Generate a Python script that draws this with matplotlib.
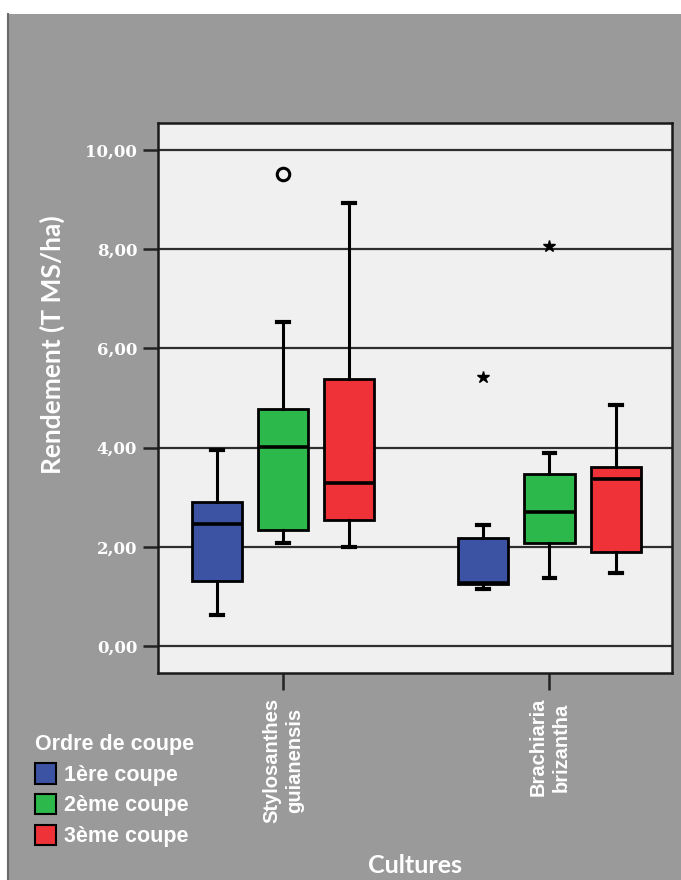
import matplotlib.pyplot as plt
from matplotlib.patches import Patch, Rectangle
from matplotlib.lines import Line2D

# --- data (T MS/ha) ---
cultures = ["Stylosanthes\nguianensis", "Brachiaria\nbrizantha"]
coupes = ["1ère coupe", "2ème coupe", "3ème coupe"]

# per culture, per coupe: lower whisker, Q1, median, Q3, upper whisker
whis_lo = [[0.62, 2.07, 1.99], [1.15, 1.36, 1.46]]
q1 = [[1.30, 2.34, 2.53], [1.24, 2.08, 1.89]]
med = [[2.45, 4.02, 3.28], [1.27, 2.70, 3.36]]
q3 = [[2.91, 4.77, 5.38], [2.18, 3.46, 3.61]]
whis_hi = [[3.95, 6.54, 8.93], [2.44, 3.88, 4.85]]
# outliers (circle) and extremes (asterisk)
outliers = [[[], [9.53], []], [[], [], []]]
extremes = [[[], [], []], [[5.42], [8.06], []]]

yticks = [0, 2, 4, 6, 8, 10]
ytick_labels = ["0,00", "2,00", "4,00", "6,00", "8,00", "10,00"]

COLORS = ["#3C53A4", "#2DB84B", "#EE3237"]
BG = "#9A9A9A"
FACE = "#F0F0F0"

fig = plt.figure(figsize=(6.81, 8.8), dpi=100, facecolor="white")
fig.patches.append(Rectangle((7 / 681, 0), 1, 1 - 14 / 880, transform=fig.transFigure,
                             facecolor=BG, edgecolor="none", zorder=-1))
fig.lines.append(Line2D([8 / 681, 8 / 681], [0, 1 - 14 / 880], transform=fig.transFigure,
                        color="#6A6A6A", lw=1.5))

ax = fig.add_axes([158 / 681, 1 - 673 / 880, 514 / 681, 550 / 880])
ax.set_facecolor(FACE)

offset = 0.248
width = 0.188
for i in range(len(cultures)):
    for j in range(len(coupes)):
        stats = [dict(whislo=whis_lo[i][j], q1=q1[i][j], med=med[i][j],
                      q3=q3[i][j], whishi=whis_hi[i][j], fliers=outliers[i][j])]
        pos = [i + (j - 1) * offset]
        ax.bxp(stats, positions=pos, widths=width, capwidths=0.045,
               patch_artist=True, manage_ticks=False,
               boxprops=dict(facecolor=COLORS[j], edgecolor="black", lw=2),
               medianprops=dict(color="black", lw=2.6),
               whiskerprops=dict(color="black", lw=2.2),
               capprops=dict(color="black", lw=3),
               flierprops=dict(marker="o", markersize=9, markerfacecolor="none",
                               markeredgecolor="black", markeredgewidth=2.2),
               zorder=3)
        if extremes[i][j]:
            ax.plot(pos * len(extremes[i][j]), extremes[i][j], marker="*",
                    ls="none", color="black", markersize=9, zorder=4)

ax.set_xlim(-0.47, 1.46)
ax.set_ylim(-0.55, 10.55)
ax.set_yticks(yticks)
ax.set_yticklabels(ytick_labels, family="DejaVu Serif", fontweight="bold",
                   fontsize=12, color="white")
ax.set_xticks(range(len(cultures)))
ax.set_xticklabels(cultures, rotation=90, family="Liberation Sans",
                   fontweight="bold", fontsize=14.5, color="white",
                   va="top", ha="center", linespacing=1.3)
ax.tick_params(axis="y", length=11, width=1.8, color="#222222", pad=4)
ax.tick_params(axis="x", length=12, width=1.8, color="#222222", pad=6)
ax.yaxis.grid(True, color="#2E2E2E", lw=1.6, zorder=0)
ax.set_axisbelow(True)
for sp in ax.spines.values():
    sp.set_color("#1A1A1A")
    sp.set_linewidth(1.8)

fig.text(52 / 681, 1 - 345 / 880, "Rendement (T MS/ha)", rotation=90,
         ha="center", va="center", family="Lato", fontweight="bold",
         fontsize=19, color="white")
fig.text(415 / 681, 1 - 865 / 880, "Cultures", ha="center", va="center",
         family="Lato", fontweight="bold", fontsize=18, color="white")

handles = [Patch(facecolor=c, edgecolor="black", lw=1.5) for c in COLORS]
leg = fig.legend(handles, coupes, loc="upper left",
                 bbox_to_anchor=(24 / 681, 1 - 723 / 880), frameon=False,
                 title="Ordre de coupe", alignment="left",
                 prop=dict(family="Liberation Sans", weight="bold", size=15.5),
                 title_fontproperties=dict(family="Liberation Sans", weight="bold", size=15.5),
                 handlelength=1.0, handleheight=1.1, handletextpad=0.35,
                 labelspacing=0.38, borderpad=0)
for t in leg.get_texts():
    t.set_color("white")
leg.get_title().set_color("white")

fig.savefig("out.png", dpi=100, facecolor=fig.get_facecolor())
